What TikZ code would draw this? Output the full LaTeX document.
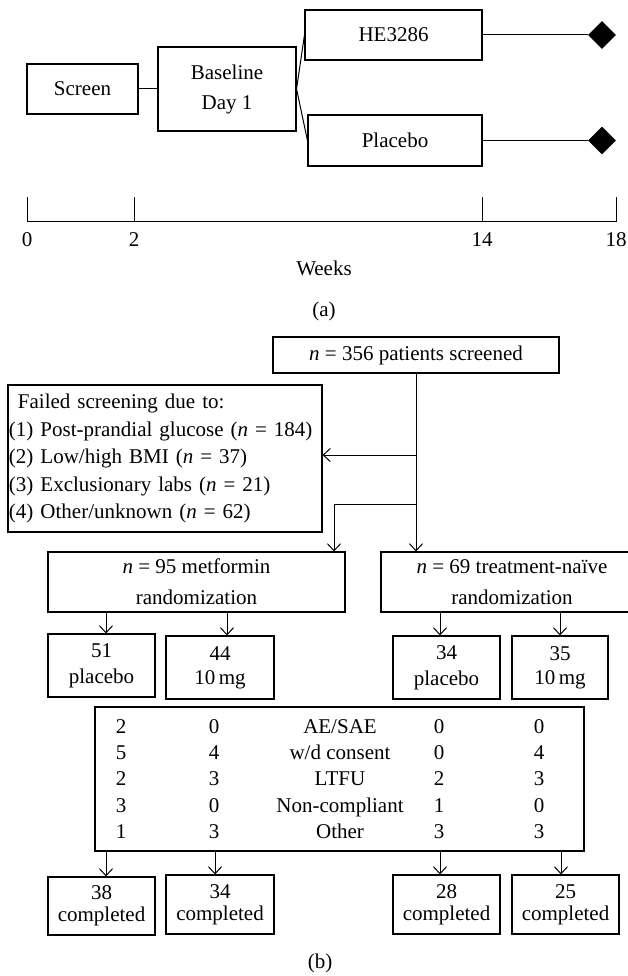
\documentclass[tikz,border=0pt]{standalone}
\usepackage{fontspec}
\setmainfont{Liberation Serif}
\usetikzlibrary{arrows.meta,shapes.geometric}
\begin{document}
\begin{tikzpicture}[x=1pt,y=-1pt,
  font=\fontsize{21}{25}\selectfont,
  box/.style={draw,line width=1.1pt,inner sep=0pt,align=center},
  conn/.style={line width=1pt},
  arr/.style={line width=1pt,-{Straight Barb[length=7pt,width=13pt,line width=1pt]}},
  diam/.style={diamond,fill=black,inner sep=0pt,minimum width=28pt,minimum height=28pt},
  cell/.style={inner sep=0pt,text height=1.5ex,text depth=0.25ex}]
\useasboundingbox (0,0) rectangle (627,976);
% ---------- (a)
\node[box,minimum width=111pt,minimum height=50pt] (screen) at (82.5,89) {Screen};
\node[box,minimum width=138pt,minimum height=84pt,font=\fontsize{21}{30}\selectfont] (base) at (227,89) {Baseline\\Day 1};
\node[box,minimum width=177pt,minimum height=50pt] (he) at (393.5,35) {HE3286};
\node[box,minimum width=174pt,minimum height=51pt] (plac) at (395,140.5) {Placebo};
\node[diam] (d1) at (602,35) {};
\node[diam] (d2) at (602,140.5) {};
\draw[conn] (screen.east) -- (base.west);
\draw[conn] (base.east) -- (he.west);
\draw[conn] (base.east) -- (plac.west);
\draw[conn] (he.east) -- (d1.west);
\draw[conn] (plac.east) -- (d2.west);
\coordinate (t0) at (27,222);
\coordinate (t2) at (134,222);
\coordinate (t14) at (482,222);
\coordinate (t18) at (616,222);
\draw[conn] (t0) -- (t18);
\foreach \t in {t0,t2,t14,t18} \draw[conn] (\t) -- ++(0,-25);
\node (l0) at (27,240) {0};
\node (l2) at (134,240) {2};
\node (l14) at (482,240) {14};
\node (l18) at (616,240) {18};
\node (weeks) at (324,268) {Weeks};
\node (capa) at (324,311) {(a)};
% ---------- (b)
\node[box,minimum width=286pt,minimum height=36pt] (n356) at (416,355) {\textit{n} = 356 patients screened};
\node[box,align=left,text width=312pt,inner xsep=1pt,minimum height=147pt,font=\fontsize{21}{27.5}\selectfont] (fail) at (165,458.5)
 {\hspace*{9pt}Failed screening due to:\\(1) Post-prandial glucose (\textit{n} = 184)\\(2) Low/high BMI (\textit{n} = 37)\\(3) Exclusionary labs (\textit{n} = 21)\\(4) Other/unknown (\textit{n} = 62)};
\node[box,minimum width=297pt,minimum height=60pt,font=\fontsize{21}{31}\selectfont] (met) at (196.5,582) {\textit{n} = 95 metformin\\randomization};
\node[box,minimum width=262pt,minimum height=60pt,font=\fontsize{21}{31}\selectfont] (treat) at (512,582) {\textit{n} = 69 treatment-naïve\\randomization};
\draw[arr] (n356.south) -- (n356.south |- treat.north);
\draw[arr] (n356.south |- 0,455) -- (fail.east |- 0,455);
\coordinate (b1) at (334,504);
\draw[arr] (n356.south |- b1) -- (b1) -- (b1 |- met.north);
% randomized arms
\node[box,minimum width=107pt,minimum height=63pt,font=\fontsize{21}{26}\selectfont] (p51) at (101.5,665.5) {51\\placebo};
\node[box,minimum width=108pt,minimum height=63pt,font=\fontsize{21}{24}\selectfont] (d44) at (220,667.5) {44\\10\,mg};
\node[box,minimum width=107pt,minimum height=63pt,font=\fontsize{21}{26}\selectfont] (p34) at (446.5,667.5) {34\\placebo};
\node[box,minimum width=96pt,minimum height=63pt,font=\fontsize{21}{24}\selectfont] (d35) at (560,667.5) {35\\10\,mg};
\coordinate (x1) at (106,0);
\coordinate (x2) at (227,0);
\coordinate (x3) at (440,0);
\coordinate (x4) at (560,0);
\draw[arr] (met.south -| x1) -- (p51.north -| x1);
\draw[arr] (met.south -| x2) -- (d44.north -| x2);
\draw[arr] (treat.south -| x3) -- (p34.north -| x3);
\draw[arr] (treat.south -| x4) -- (d35.north -| x4);
% discontinuation table
\node[box,minimum width=489pt,minimum height=144pt] (tab) at (339.5,779) {};
\foreach \y/\a/\b/\c/\d/\e [count=\i] in {731/2/0/{AE/SAE}/0/0, 757/5/4/{w/d consent}/0/4, 783/2/3/LTFU/2/3, 810/3/0/Non-compliant/1/0, 836/1/3/Other/3/3}{
  \node[cell] (r\i-1) at (121,\y) {\a};
  \node[cell] (r\i-2) at (214,\y) {\b};
  \node[cell] (r\i-3) at (340,\y) {\c};
  \node[cell] (r\i-4) at (439,\y) {\d};
  \node[cell] (r\i-5) at (539,\y) {\e};
}
% completed
\node[box,minimum width=107pt,minimum height=58pt,font=\fontsize{21}{22}\selectfont] (c38) at (101.5,906) {38\\completed};
\node[box,minimum width=108pt,minimum height=59pt,font=\fontsize{21}{22}\selectfont] (c34) at (220,904.5) {34\\completed};
\node[box,minimum width=107pt,minimum height=59pt,font=\fontsize{21}{22}\selectfont] (c28) at (446.5,904.5) {28\\completed};
\node[box,minimum width=107pt,minimum height=59pt,font=\fontsize{21}{22}\selectfont] (c25) at (565.5,904.5) {25\\completed};
\coordinate (y1) at (106,0);
\coordinate (y2) at (215,0);
\coordinate (y3) at (440,0);
\coordinate (y4) at (561,0);
\draw[arr] (tab.south -| y1) -- (c38.north -| y1);
\draw[arr] (tab.south -| y2) -- (c34.north -| y2);
\draw[arr] (tab.south -| y3) -- (c28.north -| y3);
\draw[arr] (tab.south -| y4) -- (c25.north -| y4);
\node (capb) at (320,963) {(b)};
\end{tikzpicture}
\end{document}
